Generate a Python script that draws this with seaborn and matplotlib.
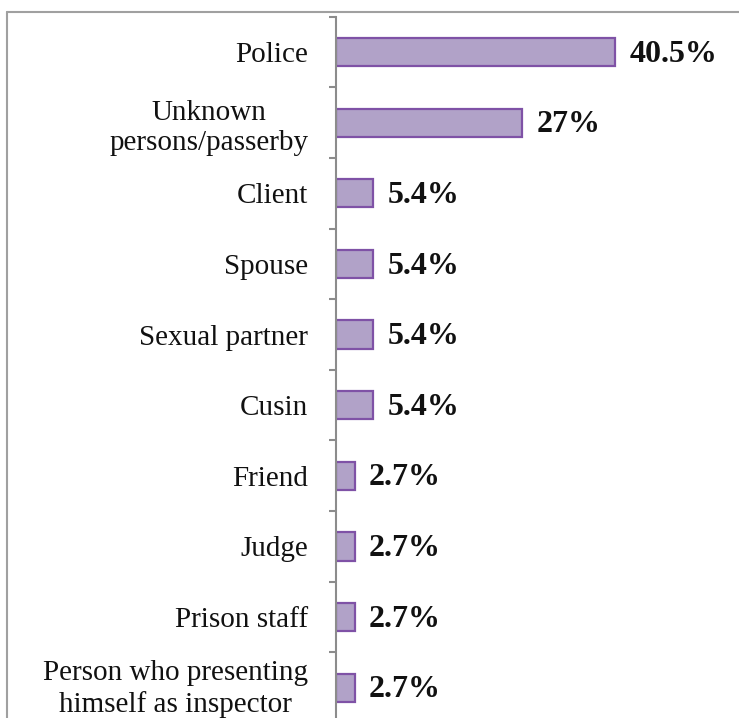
import matplotlib
matplotlib.use("Agg")
import matplotlib.pyplot as plt
from matplotlib.lines import Line2D
import matplotlib.transforms as mtransforms
import seaborn as sns
import pandas as pd
import numpy as np

categories = [
    "Police",
    "Unknown\npersons/passerby",
    "Client",
    "Spouse",
    "Sexual partner",
    "Cusin",
    "Friend",
    "Judge",
    "Prison staff",
    "Person who presenting\nhimself as inspector",
]
values = [40.5, 27, 5.4, 5.4, 5.4, 5.4, 2.7, 2.7, 2.7, 2.7]
value_labels = ["40.5%", "27%", "5.4%", "5.4%", "5.4%", "5.4%", "2.7%", "2.7%", "2.7%", "2.7%"]

df = pd.DataFrame({"who": categories, "pct": values})

sns.set_style("white")
plt.rcParams["font.family"] = ["Liberation Serif", "DejaVu Serif"]

W, H = 739, 718
fig = plt.figure(figsize=(W / 100, H / 100), dpi=100)

n = len(categories)
ax_left, ax_top = 336, 16.7
ax_bottom_px = 723.0
ax_right = 735
ax = fig.add_axes([ax_left / W, 1 - ax_bottom_px / H,
                   (ax_right - ax_left) / W, (ax_bottom_px - ax_top) / H])

sns.barplot(data=df, x="pct", y="who", orient="h", ax=ax,
            color="#B1A2C8", edgecolor="#7F52A6", linewidth=1.6,
            width=0.4, saturation=1)

ax.set_xlim(0, (ax_right - ax_left) / 6.89)
ax.set_ylim(n - 0.5, -0.5)
ax.set_xlabel("")
ax.set_ylabel("")
ax.set_xticks([])

for s in ["top", "right", "bottom"]:
    ax.spines[s].set_visible(False)
ax.spines["left"].set_color("#8C8C8C")
ax.spines["left"].set_linewidth(1.5)

# category labels at bar centres, tick marks at category boundaries
ax.set_yticks(np.arange(n))
ax.set_yticklabels(categories, fontsize=21, color="#111111",
                   multialignment="center", linespacing=1.22)
ax.tick_params(axis="y", which="major", left=True, length=0, pad=20)
ax.set_yticks(np.arange(n + 1) - 0.5, minor=True)
ax.tick_params(axis="y", which="minor", left=True, length=5, width=1.5,
               color="#8C8C8C", direction="out")

# keep the bottom two-line label inside the figure
last = ax.get_yticklabels()[-1]
last.set_transform(last.get_transform() +
                   mtransforms.ScaledTranslation(0, 3 / 72, fig.dpi_scale_trans))

for i, (v, t) in enumerate(zip(values, value_labels)):
    ax.text(v + 2.1, i + 0.03, t, va="center", ha="left",
            fontsize=23, fontweight="bold", color="#111111")

# outer chart frame (top and left edges)
fig.add_artist(Line2D([7 / W, 7 / W], [0, 1 - 12 / H], color="#A0A0A0", lw=1.5))
fig.add_artist(Line2D([7 / W, 1], [1 - 12 / H, 1 - 12 / H], color="#A0A0A0", lw=1.5))

fig.savefig("out.png", dpi=100)
